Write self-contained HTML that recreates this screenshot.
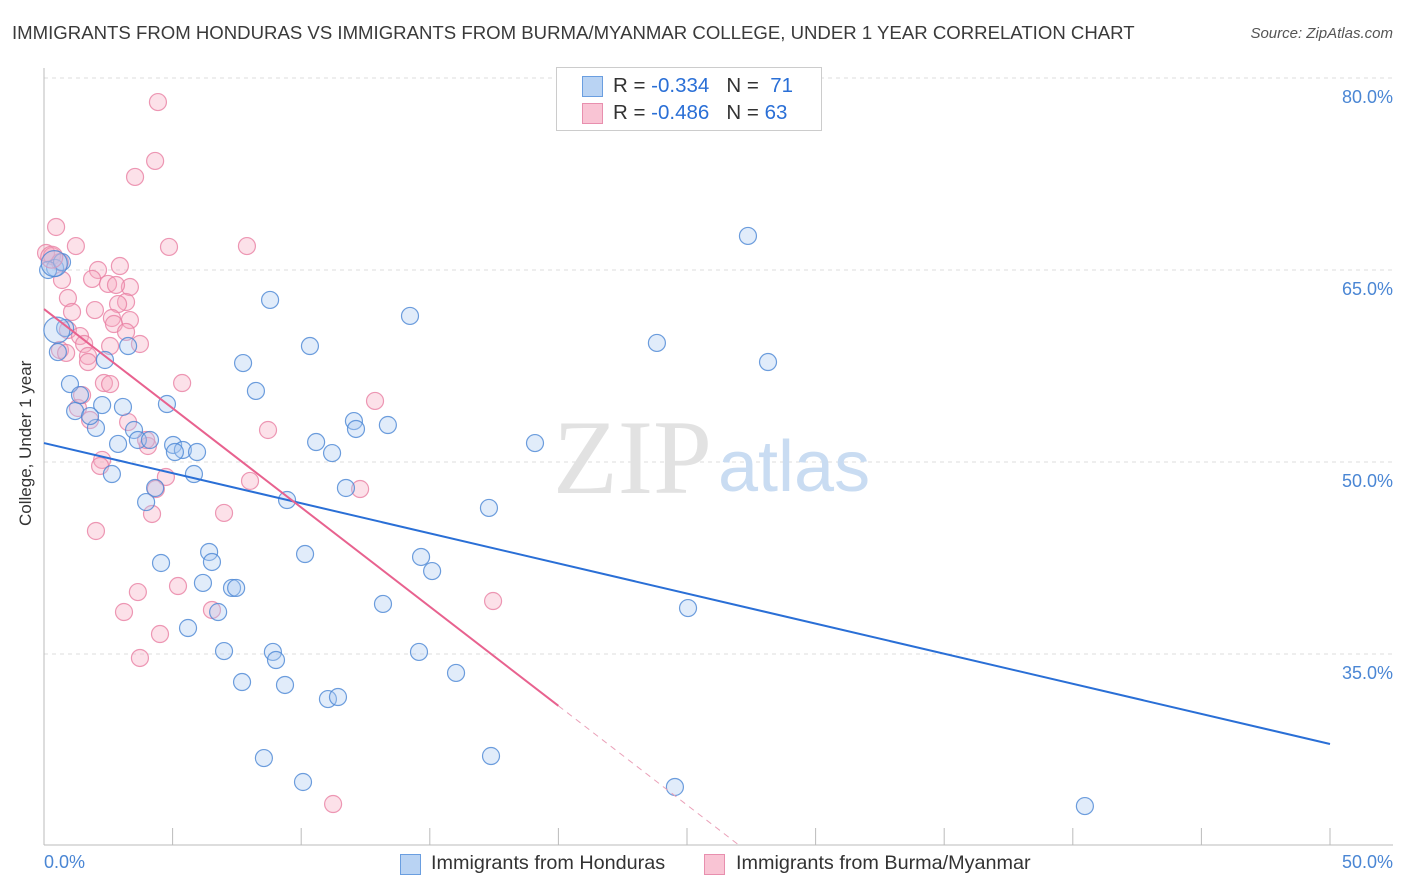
<!DOCTYPE html>
<html><head><meta charset="utf-8"><style>
body{margin:0;background:#fff;font-family:"Liberation Sans",sans-serif;}
#wrap{position:relative;width:1406px;height:892px;overflow:hidden;}
.t{position:absolute;white-space:nowrap;}
</style></head><body>
<div id="wrap">
<div class="t" style="left:12px;top:22px;font-size:18.6px;color:#3a3a3a;">IMMIGRANTS FROM HONDURAS VS IMMIGRANTS FROM BURMA/MYANMAR COLLEGE, UNDER 1 YEAR CORRELATION CHART</div>
<div class="t" style="right:13px;top:25px;font-size:15px;color:#555;font-style:italic;">Source: ZipAtlas.com</div>
<svg id="svg" width="1406" height="892" style="position:absolute;left:0;top:0"></svg>
</div>
<script>
const blueX=[27.37,8.79,14.23,10.34,23.83,28.15,7.74,8.24,0.82,0.54,3.27,2.37,1.01,1.40,1.21,2.26,3.07,2.02,1.79,3.50,2.88,3.65,4.12,4.78,5.02,5.40,5.95,5.09,2.64,5.83,4.32,3.97,10.58,11.20,12.05,12.13,13.37,19.09,11.74,9.45,17.30,4.55,6.42,6.53,6.18,7.31,7.47,6.77,5.60,10.15,14.66,15.09,13.18,25.04,7.00,8.90,9.02,14.58,16.02,7.70,9.37,11.04,11.43,8.55,17.38,10.07,24.53,40.47,0.43,0.16,0.70];
const blueY=[67.66,62.66,61.41,59.06,59.30,57.81,57.73,55.55,60.47,58.59,59.06,57.97,56.09,55.23,53.98,54.45,54.30,52.66,53.59,52.5,51.41,51.72,51.72,54.53,51.33,50.94,50.78,50.78,49.06,49.06,47.97,46.87,51.56,50.70,53.20,52.58,52.89,51.48,47.97,47.03,46.41,42.11,42.97,42.19,40.55,40.16,40.16,38.28,37.03,42.81,42.58,41.48,38.91,38.59,35.23,35.16,34.53,35.16,33.52,32.81,32.58,31.48,31.64,26.87,27.03,25.0,24.61,23.12,65.16,65.0,65.62];
const pinkX=[4.43,4.32,3.54,0.47,1.24,4.86,7.89,0.08,0.31,0.62,2.95,2.10,0.70,1.87,2.49,3.34,2.80,0.93,3.19,2.88,1.98,1.09,2.64,3.34,2.72,0.93,1.40,3.73,1.56,2.57,0.62,1.71,1.71,2.33,2.57,5.37,12.87,1.32,1.79,3.27,8.71,4.04,2.26,2.18,4.74,8.01,4.35,12.29,4.20,7.00,2.02,3.65,5.21,6.53,3.11,17.46,4.51,3.73,11.24,0.86,3.19,3.97,1.48];
const pinkY=[78.12,73.52,72.27,68.36,66.87,66.8,66.87,66.33,66.09,65.62,65.31,65.0,64.22,64.30,63.91,63.67,63.83,62.81,62.5,62.34,61.87,61.72,61.25,61.09,60.78,60.31,59.84,59.22,59.22,59.06,58.75,58.28,57.81,56.17,56.09,56.17,54.77,54.22,53.28,53.12,52.5,51.25,50.16,49.69,48.83,48.52,47.89,47.89,45.94,46.02,44.61,39.84,40.31,38.44,38.28,39.14,36.56,34.69,23.28,58.52,60.16,51.72,55.23];
const blueBigX=[0.4,0.5];const blueBigY=[65.5,60.3];
const pinkBigX=[0.3];const pinkBigY=[66.0];
const blueLine=[51.48,27.97]; // y at x=0 and x=50
const pinkLine=[61.95,-1.55]; // intercept, slope
const pinkSolidEnd=20;
const yTicks=[80,65,50,35];
const yTickLabels=["80.0%","65.0%","50.0%","35.0%"];
const xTicks=[0,5,10,15,20,25,30,35,40,45,50];

const X=v=>44+v*25.72, Y=v=>78+(80-v)*12.8;
const svg=document.getElementById('svg');const NS='http://www.w3.org/2000/svg';
function mk(tag,a){const e=document.createElementNS(NS,tag);for(const k in a)e.setAttribute(k,a[k]);svg.appendChild(e);return e;}
yTicks.forEach((v,i)=>{
 const g=mk('line',{x1:44,x2:1393,y1:Y(v),y2:Y(v),stroke:'#dcdcdc','stroke-dasharray':'4,4'});
 
 
 const t=mk('text',{x:1393,y:Y(v)+25,'text-anchor':'end','font-size':18,fill:'#4a86d4','font-family':'Liberation Sans'});
 t.textContent=yTickLabels[i];
 
 
});
const ax=mk('line',{x1:44,x2:44,y1:68,y2:845,stroke:'#bbb'});


const bx=mk('line',{x1:44,x2:1393,y1:845,y2:845,stroke:'#bbb'});


xTicks.forEach(v=>{const l=mk('line',{x1:X(v),x2:X(v),y1:828,y2:845,stroke:'#bbb'});
 
 });
// watermark
const w1=mk('text',{x:553,y:493,'font-size':106,fill:'#e2e2e2','font-family':'Liberation Serif'});w1.textContent='ZIP';


const w2=mk('text',{x:718,y:491,'font-size':72,fill:'#c9dcf2','font-family':'Liberation Sans'});w2.textContent='atlas';


function dots(xs,ys,r,fill,stroke,name){xs.forEach((x,i)=>{const c=mk('circle',{cx:X(x),cy:Y(ys[i]),r:r,fill:fill,'fill-opacity':0.35,stroke:stroke,'stroke-width':1.2,'stroke-opacity':0.8});
 
 });}
dots(pinkX,pinkY,8.5,'#f5a9c1','#e87fa3','pink-point');
dots(blueX,blueY,8.5,'#a9c9f0','#4a86d4','blue-point');
dots(pinkBigX,pinkBigY,11,'#f5a9c1','#e87fa3','pink-point');
dots(blueBigX,blueBigY,13,'#a9c9f0','#4a86d4','blue-point');
const bl=mk('line',{x1:X(0),y1:Y(blueLine[0]),x2:X(50),y2:Y(blueLine[1]),stroke:'#2a6fd6','stroke-width':2});


const pe=(20.08-pinkLine[0])/pinkLine[1];
const pl=mk('line',{x1:X(0),y1:Y(pinkLine[0]),x2:X(pinkSolidEnd),y2:Y(pinkLine[0]+pinkLine[1]*pinkSolidEnd),stroke:'#e8628f','stroke-width':2});


const pd=mk('line',{x1:X(pinkSolidEnd),y1:Y(pinkLine[0]+pinkLine[1]*pinkSolidEnd),x2:X(pe),y2:Y(20.08),stroke:'#eaa0b8','stroke-width':1,'stroke-dasharray':'6,5'});


</script>
<div class="t" style="left:-44px;top:446px;font-size:17px;color:#333;transform:rotate(-90deg);width:140px;text-align:center;">College, Under 1 year</div>
<div class="t" style="left:44px;top:852px;font-size:18px;color:#4a86d4;">0.0%</div>
<div class="t" style="right:13px;top:852px;font-size:18px;color:#4a86d4;">50.0%</div>
<div style="position:absolute;left:556px;top:67px;width:264px;height:62px;border:1px solid #ccc;background:#fff;font-size:20.5px;color:#333;">
 <div style="position:absolute;left:25px;top:8px;width:19px;height:19px;background:#b9d3f3;border:1px solid #6a9ee0;"></div>
 <div class="t" style="left:56px;top:6px;">R = <span style="color:#2a6fd6">-0.334</span>&nbsp;&nbsp;&nbsp;N = <span style="color:#2a6fd6">&nbsp;71</span></div>
 <div style="position:absolute;left:25px;top:35px;width:19px;height:19px;background:#f9c4d4;border:1px solid #e88fae;"></div>
 <div class="t" style="left:56px;top:33px;">R = <span style="color:#2a6fd6">-0.486</span>&nbsp;&nbsp;&nbsp;N = <span style="color:#2a6fd6">63</span></div>
</div>
<div style="position:absolute;left:400px;top:854px;width:19px;height:19px;background:#b9d3f3;border:1px solid #6a9ee0;"></div>
<div class="t" style="left:431px;top:852px;font-size:19.8px;color:#333;">Immigrants from Honduras</div>
<div style="position:absolute;left:704px;top:854px;width:19px;height:19px;background:#f9c4d4;border:1px solid #e88fae;"></div>
<div class="t" style="left:736px;top:852px;font-size:19.8px;color:#333;">Immigrants from Burma/Myanmar</div>
</body></html>
